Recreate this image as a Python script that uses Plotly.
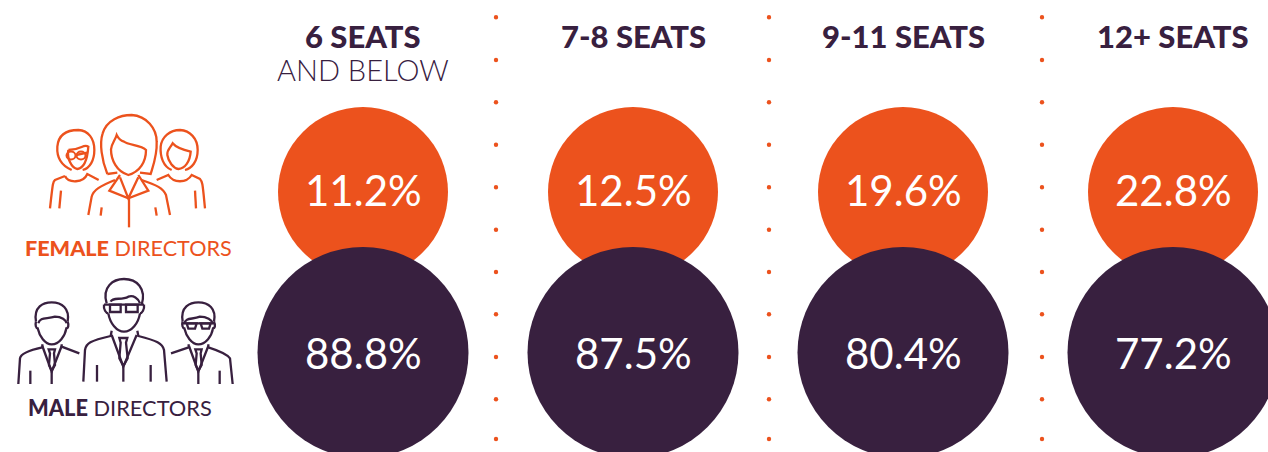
import re
import plotly.graph_objects as go

seats = ["6 SEATS", "7-8 SEATS", "9-11 SEATS", "12+ SEATS"]
groups = ["Female directors", "Male directors"]
female_share = [11.2, 12.5, 19.6, 22.8]
male_share = [88.8, 87.5, 80.4, 77.2]

ORANGE = "#EC521D"
PURPLE = "#38203F"
W, H = 1268, 452
FONT = "Lato"

# zoom-space (3x, offset y 100) outlines of the pictograms
FEMALE_ICON = [
    "M322,222 C305,180 298,130 308,100 C320,60 360,45 395,45 C440,48 470,85 470,125 C472,165 460,195 452,222 L420,218",
    "M322,222 L352,218",
    "M350,105 C345,122 335,130 333,148 C333,180 350,215 385,225 C420,215 438,185 438,150 C425,135 385,135 372,125 C362,122 355,115 350,105 Z",
    "M360,225 L328,272 L385,295 L445,272 L415,225",
    "M360,232 L385,295 L415,232",
    "M265,345 L275,290 C280,270 300,258 345,240",
    "M510,345 L498,285 C490,265 470,255 425,240",
    "M387,295 L387,382", "M305,322 L302,347", "M466,322 L470,347",
    "M215,210 C180,195 170,170 172,140 C175,105 200,90 235,90 C265,92 283,115 283,150 C283,180 270,205 248,210",
    "M205,150 C200,175 215,205 232,207 C250,205 262,180 265,140 C250,130 245,150 205,150",
    "M228,165 L262,158",
    "M195,228 C205,250 250,250 262,222 L296,240",
    "M195,228 L165,240 C158,245 158,255 150,325", "M183,272 L178,325",
    "M515,210 C490,200 480,170 482,140 C485,110 510,90 540,90 C570,92 593,115 593,150 C593,185 575,205 555,210",
    "M518,130 C510,145 500,150 502,165 C505,185 520,205 535,207 C555,205 570,185 572,155 C550,150 530,145 518,130 Z",
    "M470,240 L505,225 C520,250 560,250 575,225 L600,237 C608,245 608,255 615,325",
    "M585,272 L588,325",
]
MALE_ICON = [
    "M320,610 C305,560 340,537 372,537 C410,537 440,565 425,615",
    "M325,640 C330,670 350,695 372,695 C395,695 415,670 420,640",
    "M332,605 C338,590 365,602 385,590 C400,585 415,595 420,610",
    "M312,614 L432,614", "M330,614 L362,614 L362,636 L330,636 Z", "M378,614 L413,614 L413,636 L378,636 Z",
    "M312,614 C310,628 318,640 325,640", "M432,614 C434,628 426,640 420,640",
    "M250,845 L255,750 C258,730 270,722 332,708 L335,692",
    "M412,692 L415,708 C470,722 488,730 492,750 L500,845",
    "M335,705 L370,800 L410,705",
    "M358,714 L382,714 L378,728 L383,775 L370,798 L358,775 L362,728 Z",
    "M370,800 L370,845", "M291,795 L291,845", "M452,795 L452,845",
    "M108,665 C100,620 130,607 155,607 C185,607 210,625 203,665",
    "M108,665 C105,675 108,685 113,685 C118,708 135,733 155,733 C178,733 195,708 199,685 C205,685 207,675 203,665",
    "M115,670 C120,650 140,658 165,650 C185,650 198,660 200,670",
    "M55,852 L60,775 C62,760 90,750 127,742 L127,733",
    "M185,733 L185,740 L238,760",
    "M127,738 L155,815 L185,738", "M146,748 L165,748 L162,760 L165,795 L155,812 L147,795 L150,760 Z",
    "M155,815 L155,852", "M91,812 L91,852",
    "M548,665 C540,620 570,607 595,607 C625,607 650,625 642,665",
    "M548,665 C545,675 548,685 553,685 C558,708 575,733 595,733 C618,733 635,708 639,685 C645,685 647,675 642,665",
    "M552,672 C558,650 575,660 600,650 C620,650 636,660 640,672",
    "M545,670 L645,670", "M560,670 L590,670 L585,686 L565,686 Z", "M602,670 L632,670 L627,686 L607,686 Z",
    "M513,760 L566,742 L566,733", "M625,733 L625,742 C650,750 680,760 690,775 L698,852",
    "M567,738 L595,815 L625,738", "M586,748 L605,748 L602,760 L605,795 L595,812 L587,795 L590,760 Z",
    "M595,815 L595,852", "M659,812 L659,852",
]


def to_paper_path(path):
    def repl(m):
        x = float(m.group(1)) / 3 / W
        y = 1 - (float(m.group(2)) / 3 + 100) / H
        return f"{x:.5f},{y:.5f}"
    return re.sub(r"(-?\d+(?:\.\d+)?),(-?\d+(?:\.\d+)?)", repl, path)


def icon_shapes(paths, color):
    return [dict(type="path", xref="paper", yref="paper", path=to_paper_path(p),
                 line=dict(color=color, width=2.3), fillcolor="rgba(0,0,0,0)", layer="above")
            for p in paths]


shapes = icon_shapes(FEMALE_ICON, ORANGE) + icon_shapes(MALE_ICON, PURPLE)
# glasses of the left woman
for cx in (71, 81):
    shapes.append(dict(type="circle", xref="paper", yref="paper",
                       x0=(cx - 4.5) / W, x1=(cx + 4.5) / W,
                       y0=1 - (155.5 + 4) / H, y1=1 - (155.5 - 4) / H,
                       line=dict(color=ORANGE, width=2), fillcolor="rgba(0,0,0,0)"))

# dotted column separators
for sx in (496, 769, 1042):
    for sy in (17.3, 60, 102.3, 144.7, 187.3, 229.7, 272, 314.3, 357, 399.3, 439):
        shapes.append(dict(type="circle", xref="paper", yref="paper",
                           x0=(sx - 2.2) / W, x1=(sx + 2.2) / W,
                           y0=1 - (sy + 2.2) / H, y1=1 - (sy - 2.2) / H,
                           fillcolor=ORANGE, line=dict(width=0)))

fig = go.Figure()
fig.add_trace(go.Scatter(
    x=seats, y=[groups[0]] * 4, mode="markers",
    marker=dict(size=170, color=ORANGE, line=dict(width=0), opacity=1),
    cliponaxis=False, hoverinfo="skip", showlegend=False))
fig.add_trace(go.Scatter(
    x=seats, y=[groups[1]] * 4, mode="markers",
    marker=dict(size=211, color=PURPLE, line=dict(width=0), opacity=1),
    cliponaxis=False, hoverinfo="skip", showlegend=False))

annotations = []
for g, values, shift in zip(groups, (female_share, male_share), (2, 0)):
    for s, v in zip(seats, values):
        annotations.append(dict(x=s, y=g, text=f"{v}%", showarrow=False, yshift=shift,
                                xanchor="center", yanchor="middle",
                                font=dict(family=FONT, size=42, color="white", weight=400)))
annotations += [dict(x=s, y=1 - 36 / H, yref="paper", text=s, showarrow=False, xanchor="center",
                     yanchor="middle", font=dict(family=FONT, size=31, color=PURPLE, weight=900))
                for s in seats]
annotations.append(dict(x=seats[0], y=1 - 70 / H, yref="paper", text="AND BELOW", showarrow=False,
                        xanchor="center", yanchor="middle", yshift=1,
                        font=dict(family=FONT, size=29, color=PURPLE, weight=300)))
annotations.append(dict(x=128 / W, xref="paper", y=1 - 248 / H, yref="paper",
                        text='<span style="font-weight:900">FEMALE</span> DIRECTORS', showarrow=False,
                        xanchor="center", yanchor="middle",
                        font=dict(family=FONT, size=21.6, color=ORANGE)))
annotations.append(dict(x=120 / W, xref="paper", y=1 - 407 / H, yref="paper",
                        text='<span style="font-weight:900">MALE</span> DIRECTORS', showarrow=False,
                        xanchor="center", yanchor="middle",
                        font=dict(family=FONT, size=21.8, color=PURPLE)))

fig.update_layout(
    width=W, height=H, autosize=False,
    margin=dict(l=0, r=0, t=0, b=0),
    paper_bgcolor="white", plot_bgcolor="white",
    shapes=shapes, annotations=annotations,
    xaxis=dict(type="category", categoryorder="array", categoryarray=seats,
               range=[-363 / 270, (W - 363) / 270], visible=False, fixedrange=True),
    yaxis=dict(type="category", categoryorder="array", categoryarray=groups,
               range=[(H - 192) / 160.5, -192 / 160.5], visible=False, fixedrange=True),
)
fig.write_html("out.html", config={"displayModeBar": False},
               post_script="document.body.style.margin='0';document.documentElement.style.overflow='hidden';")
